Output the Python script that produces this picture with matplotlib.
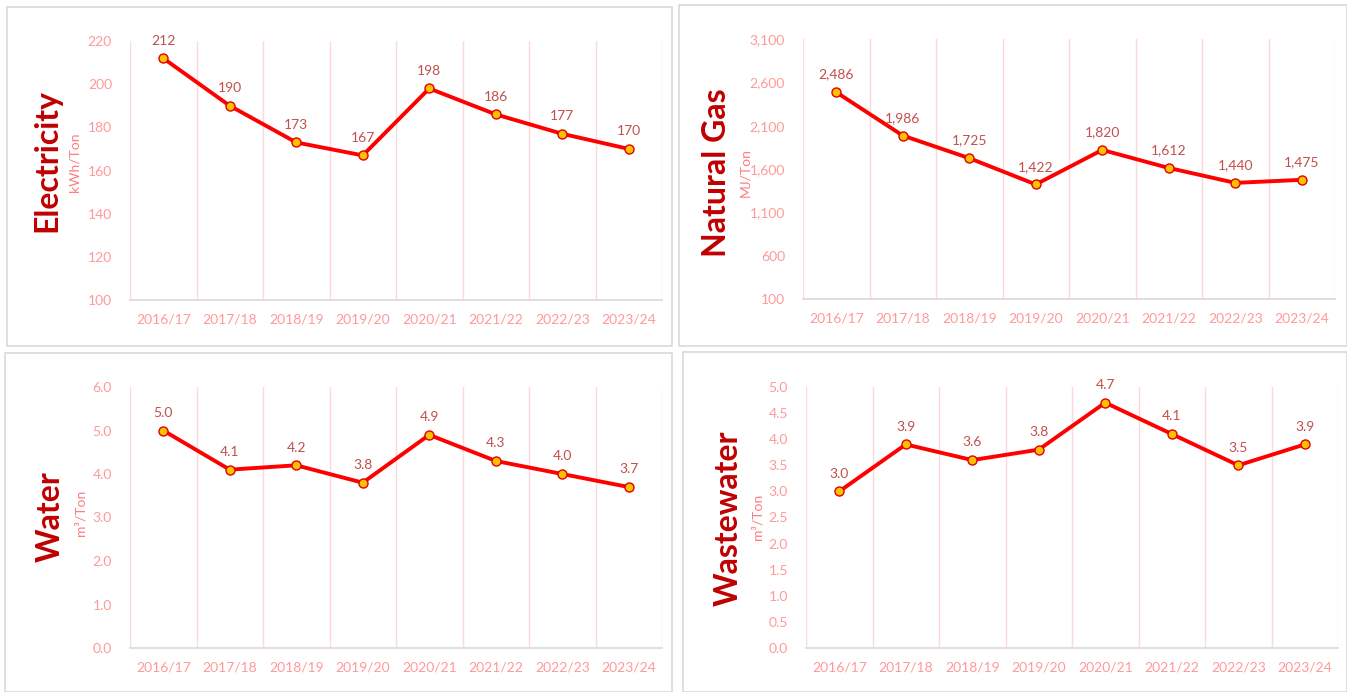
import matplotlib.pyplot as plt
from matplotlib.patches import Rectangle

years = ["2016/17", "2017/18", "2018/19", "2019/20", "2020/21", "2021/22", "2022/23", "2023/24"]

electricity = [212, 190, 173, 167, 198, 186, 177, 170]
natural_gas = [2486, 1986, 1725, 1422, 1820, 1612, 1440, 1475]
water = [5.0, 4.1, 4.2, 3.8, 4.9, 4.3, 4.0, 3.7]
wastewater = [3.0, 3.9, 3.6, 3.8, 4.7, 4.1, 3.5, 3.9]

W, H = 1347, 692
plt.rcParams["font.family"] = ["Lato", "DejaVu Sans"]

fig = plt.figure(figsize=(W / 100, H / 100), dpi=100)
fig.patch.set_facecolor("white")

TICK = "#FF9999"
LABEL = "#C0504D"
TITLE = "#C00000"


def px(x0, y0, x1, y1):
    # pixel box (top-left origin) -> figure fraction rect
    return [x0 / W, 1 - y1 / H, (x1 - x0) / W, (y1 - y0) / H]


def panel(box, plot, values, ymin, ymax, step, fmt, title, unit, tx, ty, ux, uy):
    fig.patches.append(Rectangle((box[0] / W, 1 - box[3] / H), (box[2] - box[0]) / W,
                                 (box[3] - box[1]) / H, transform=fig.transFigure,
                                 fill=False, edgecolor="#D9D9D9", linewidth=1.2))
    ax = fig.add_axes(px(*plot))
    n = len(years)
    x = list(range(n))
    ax.plot(x, values, color="#FF0000", linewidth=2.8, marker="o", markersize=6.5,
            markerfacecolor="#FFC000", markeredgecolor="#E00000", markeredgewidth=1.0,
            zorder=3, clip_on=False)
    span = ymax - ymin
    for xi, v in zip(x, values):
        ax.text(xi, v + span * 0.045, fmt.format(v), ha="center", va="bottom",
                color=LABEL, fontsize=10)
    ax.set_xlim(-0.5, n - 0.5)
    ax.set_ylim(ymin, ymax)
    ticks = []
    t = ymin
    while t <= ymax + 1e-9:
        ticks.append(t)
        t += step
    ax.set_yticks(ticks)
    ax.set_yticklabels([fmt.format(t) for t in ticks])
    ax.set_xticks(x)
    ax.set_xticklabels(years)
    for b in range(n + 1):
        ax.axvline(b - 0.5, color="#FFD9D9", linewidth=1.0, zorder=1)
    for s in ["top", "right", "left"]:
        ax.spines[s].set_visible(False)
    ax.spines["bottom"].set_color("#D9D9D9")
    ax.spines["bottom"].set_linewidth(1.2)
    ax.tick_params(axis="both", length=0, colors=TICK, labelsize=10)
    ax.tick_params(axis="x", pad=10)
    ax.tick_params(axis="y", pad=13)
    ax.set_facecolor("none")
    fig.text(tx / W, 1 - ty / H, title, rotation=90, ha="center", va="center",
             color=TITLE, fontsize=23, fontweight="bold")
    fig.text(ux / W, 1 - uy / H, unit, rotation=90, ha="center", va="center",
             color="#FF7C80", fontsize=10)
    return ax


panel((7, 7, 672, 346), (130, 41, 662, 300), electricity, 100, 220, 20, "{:.0f}",
      "Electricity", "kWh/Ton", 47, 161, 75, 162)
panel((679, 5, 1347, 346), (803, 39, 1335, 299), natural_gas, 100, 3100, 500, "{:,.0f}",
      "Natural Gas", "MJ/Ton", 717, 173, 745, 173)
panel((5, 353, 672, 692), (130, 387, 662, 648), water, 0, 6, 1, "{:.1f}",
      "Water", "m³/Ton", 50, 517, 80, 513)
panel((683, 352, 1347, 692), (806, 387, 1338, 648), wastewater, 0, 5, 0.5, "{:.1f}",
      "Wastewater", "m³/Ton", 728, 518, 757, 517)

fig.savefig("out.png", dpi=100)
